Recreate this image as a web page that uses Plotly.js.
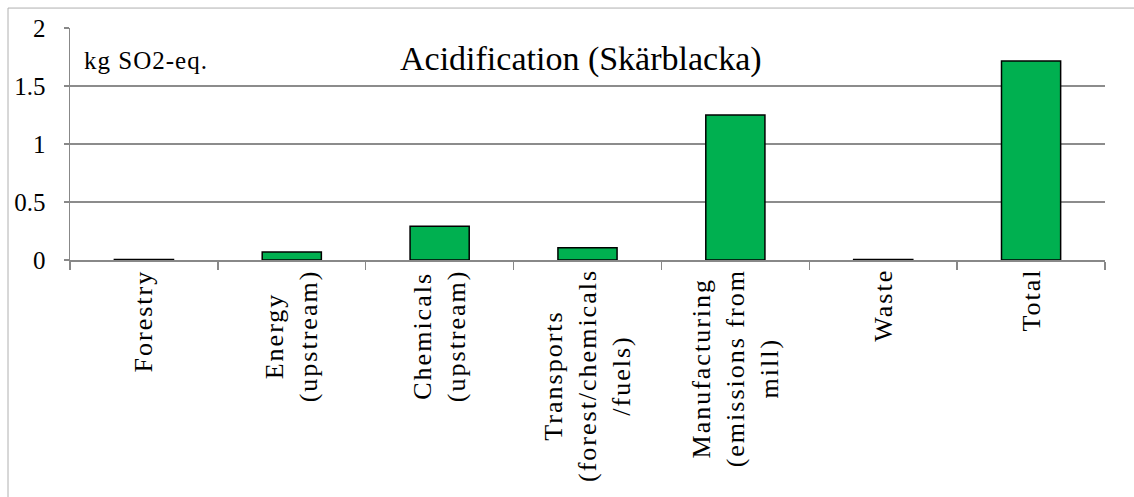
<!DOCTYPE html>
<html>
<head>
<meta charset="utf-8">
<script src="https://cdn.plot.ly/plotly-3.0.1.min.js"></script>
<style>
html,body{margin:0;padding:0;background:#fff;}
#chart{width:1134px;height:497px;}
text.annotation-text{letter-spacing:2px;}
text.annotation-text[data-unformatted="Acidification (Skärblacka)"]{letter-spacing:0;}
text.annotation-text[data-unformatted="kg SO2-eq."]{letter-spacing:1px;}
</style>
</head>
<body>
<div id="chart"></div>
<script>
const categories = [
  "Forestry",
  "Energy<br>(upstream)",
  "Chemicals<br>(upstream)",
  "Transports<br>(forest/chemicals<br>/fuels)",
  "Manufacturing<br>(emissions from<br>mill)",
  "Waste",
  "Total"
];
const values = [0.004, 0.07, 0.29, 0.106, 1.25, 0.004, 1.715];
const yTickVals = [0, 0.5, 1, 1.5, 2];
const yTickText = ["0", "0.5", "1", "1.5", "2"];
const titleText = "Acidification (Skärblacka)";
const unitText = "kg SO2-eq.";

const serif = "'Liberation Serif', 'Times New Roman', serif";

const trace = {
  type: "bar",
  x: categories,
  y: values,
  marker: { color: "#00B050", line: { color: "#000000", width: 1.5 } },
  hoverinfo: "none"
};

const catLabels = categories.map(c => ({
  text: c, xref: "x", yref: "y", x: c, y: 0,
  xanchor: "center", yanchor: "top", yshift: -7,
  textangle: -90, align: "center", showarrow: false,
  font: { family: serif, size: 26, color: "#000000" }
}));

const layout = {
  width: 1134,
  height: 497,
  margin: { l: 70, r: 29, t: 28, b: 237 },
  paper_bgcolor: "#ffffff",
  plot_bgcolor: "#ffffff",
  showlegend: false,
  bargap: 0.6,
  font: { family: serif, color: "#000000", size: 22 },
  xaxis: {
    type: "category",
    tickson: "boundaries",
    ticks: "outside",
    ticklen: 8,
    tickcolor: "#888888",
    tickwidth: 1.5,
    showticklabels: false,
    showline: true,
    linecolor: "#888888",
    linewidth: 1.5,
    showgrid: false,
    fixedrange: true
  },
  yaxis: {
    range: [0, 2],
    tickvals: yTickVals,
    ticktext: yTickText,
    ticks: "outside",
    ticklen: 5,
    tickcolor: "#888888",
    tickwidth: 1.5,
    showline: true,
    linecolor: "#888888",
    linewidth: 1.5,
    showgrid: true,
    gridcolor: "#8c8c8c",
    gridwidth: 1.5,
    zeroline: false,
    ticklabelstandoff: 13,
    tickfont: { family: serif, size: 25, color: "#000000" },
    fixedrange: true
  },
  annotations: [
    {
      text: titleText, xref: "paper", yref: "paper",
      x: 0.494, y: 0.866, xanchor: "center", yanchor: "middle",
      showarrow: false, font: { family: serif, size: 34, color: "#000000" }
    },
    {
      text: unitText, xref: "paper", yref: "paper",
      x: 0.0116, y: 0.862, xanchor: "left", yanchor: "middle",
      showarrow: false, font: { family: serif, size: 25, color: "#000000" }
    }
  ].concat(catLabels),
  shapes: [
    {
      type: "rect", xref: "paper", yref: "paper",
      x0: -0.0599, x1: 1.05, y0: -1.05, y1: 1.086,
      line: { color: "#b0b0b0", width: 1 }, fillcolor: "rgba(0,0,0,0)", layer: "below"
    }
  ]
};

Plotly.newPlot("chart", [trace], layout, { staticPlot: true, displayModeBar: false });
</script>
</body>
</html>
